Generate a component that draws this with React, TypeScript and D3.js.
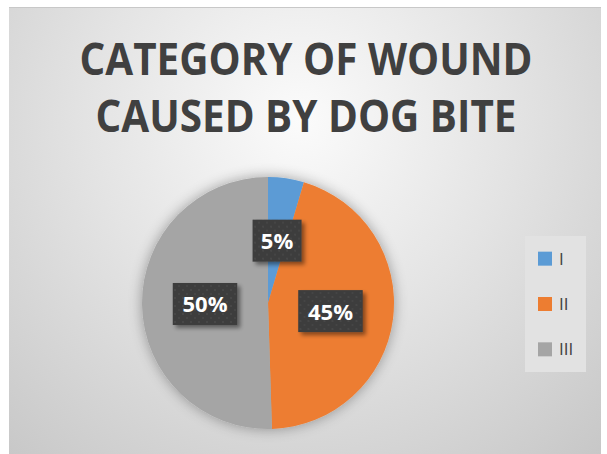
import React from "react";
import * as d3 from "d3";

const categories = ["I", "II", "III"];
const values = [4.6, 44.9, 50.5];
const labels = ["5%", "45%", "50%"];
const colors = ["#5B9BD5", "#ED7D31", "#A5A5A5"];
const titleLines = ["CATEGORY OF WOUND", "CAUSED BY DOG BITE"];

export default function App() {
  const W = 607, H = 454;
  const cx = 268, cy = 303, r = 126;
  const pie = d3.pie<number>().sort(null).value((d) => d)(values);
  const arc = d3.arc<d3.PieArcDatum<number>>().innerRadius(0).outerRadius(r);
  const legendY = d3.scaleBand<string>().domain(categories).range([236, 372]).padding(0);

  return (
    <svg width={W} height={H} style={{ position: "absolute", left: 0, top: 0 }}
      fontFamily="'Open Sans', sans-serif">
      <defs>
        <radialGradient id="bg" cx="300" cy="120" r="460" gradientUnits="userSpaceOnUse">
          <stop offset="0" stopColor="#fbfbfb" />
          <stop offset="0.45" stopColor="#e4e4e4" />
          <stop offset="1" stopColor="#c6c6c6" />
        </radialGradient>
        <filter id="pieShadow" x="-30%" y="-30%" width="160%" height="160%">
          <feGaussianBlur in="SourceAlpha" stdDeviation="7" />
          <feComponentTransfer><feFuncA type="linear" slope="0.35" /></feComponentTransfer>
          <feMerge><feMergeNode /><feMergeNode in="SourceGraphic" /></feMerge>
        </filter>
        <filter id="boxShadow" x="-30%" y="-30%" width="170%" height="170%">
          <feGaussianBlur in="SourceAlpha" stdDeviation="2" />
          <feOffset dx="3" dy="3" />
          <feComponentTransfer><feFuncA type="linear" slope="0.45" /></feComponentTransfer>
          <feMerge><feMergeNode /><feMergeNode in="SourceGraphic" /></feMerge>
        </filter>
        <pattern id="dots" width="8" height="8" patternUnits="userSpaceOnUse">
          <rect width="8" height="8" fill="#3d3d3d" />
          <circle cx="2" cy="2" r="1" fill="#4a4a4a" />
          <circle cx="6" cy="6" r="1" fill="#474747" />
        </pattern>
      </defs>
      <rect x={0} y={0} width={W} height={H} fill="#ffffff" />
      <rect x={9} y={7} width={592} height={H - 7} fill="url(#bg)" />
      <line x1={9} x2={601} y1={7.5} y2={7.5} stroke="#c8c8c8" />

      {titleLines.map((t, i) => (
        <text key={t} x={306} y={75 + i * 57} textAnchor="middle" fontSize={44}
          fontWeight={700} fill="#404040" textLength={i === 0 ? 453 : 421}
          lengthAdjust="spacingAndGlyphs">{t}</text>
      ))}

      <g transform={`translate(${cx},${cy})`} filter="url(#pieShadow)">
        {pie.map((p, i) => (
          <path key={i} d={arc(p) || ""} fill={colors[i]} />
        ))}
      </g>

      <g transform={`translate(${cx},${cy})`}>
        {pie.map((p, i) => {
          const [x, y] = arc.centroid(p);
          const w = 18 + 15.5 * labels[i].length;
          const h = 42;
          return (
            <g key={i} transform={`translate(${x},${y})`}>
              <rect x={-w / 2} y={-h / 2} width={w} height={h} fill="url(#dots)" filter="url(#boxShadow)" />
              <text x={0} y={8.5} textAnchor="middle" fontSize={22} fontWeight={700} fill="#ffffff">{labels[i]}</text>
            </g>
          );
        })}
      </g>

      <rect x={525} y={236} width={61} height={136} fill="#e2e2e2" />
      {categories.map((c, i) => {
        const y = (legendY(c) || 0) + legendY.bandwidth() / 2;
        return (
          <g key={c}>
            <rect x={538} y={y - 7} width={14} height={14} fill={colors[i]} />
            <text x={559} y={y + 6} fontSize={17} fill="#404040">{c}</text>
          </g>
        );
      })}
    </svg>
  );
}
